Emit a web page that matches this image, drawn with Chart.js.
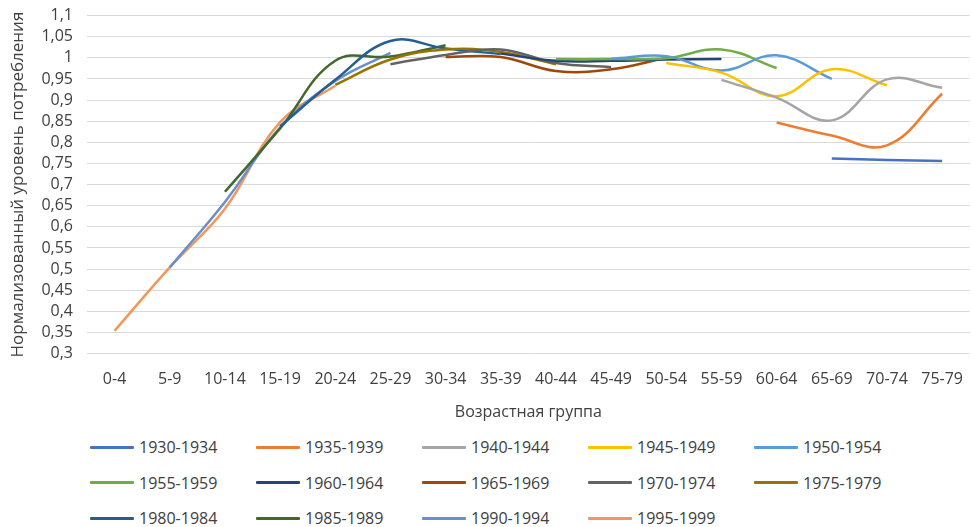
<!DOCTYPE html>
<html lang="ru">
<head>
<meta charset="utf-8">
<title>Нормализованный уровень потребления</title>
<script src="https://cdn.jsdelivr.net/npm/chart.js@4/dist/chart.umd.min.js"></script>
<style>
	html, body { margin: 0; padding: 0; background: #fff; }
	#wrap { position: relative; width: 971px; height: 527px; overflow: hidden; }
	#chartBox { position: absolute; left: 0; top: -8px; width: 971px; height: 430px; }
	#legend {
		position: absolute; left: 90px; top: 436px;
		display: grid; grid-template-columns: repeat(5, 166px); grid-auto-rows: 35.5px;
		font-family: "Open Sans", sans-serif; font-size: 16px; color: #404040;
	}
	.item { display: flex; align-items: center; height: 22px; white-space: nowrap; }
	.swatch { width: 44px; height: 3px; margin-right: 5px; border-radius: 1px; }
</style>
</head>
<body>
<div id="wrap">
	<div id="chartBox"><canvas id="ageChart"></canvas></div>
	<div id="legend"></div>
</div>
<script>
// age groups on the x axis
const ageGroups = ['0-4', '5-9', '10-14', '15-19', '20-24', '25-29', '30-34', '35-39',
	'40-44', '45-49', '50-54', '55-59', '60-64', '65-69', '70-74', '75-79'];

const cohorts = ['1930-1934', '1935-1939', '1940-1944', '1945-1949', '1950-1954',
	'1955-1959', '1960-1964', '1965-1969', '1970-1974', '1975-1979',
	'1980-1984', '1985-1989', '1990-1994', '1995-1999'];

// normalized consumption per cohort, null where the cohort has no data
const c1930 = [null, null, null, null, null, null, null, null, null, null, null, null, null, 0.762, 0.758, 0.756];
const c1935 = [null, null, null, null, null, null, null, null, null, null, null, null, 0.847, 0.816, 0.793, 0.915];
const c1940 = [null, null, null, null, null, null, null, null, null, null, null, 0.948, 0.906, 0.852, 0.949, 0.929];
const c1945 = [null, null, null, null, null, null, null, null, null, null, 0.988, 0.965, 0.909, 0.973, 0.935, null];
const c1950 = [null, null, null, null, null, null, null, null, null, 0.998, 1.004, 0.970, 1.006, 0.950, null, null];
const c1955 = [null, null, null, null, null, null, null, null, 0.997, 0.997, 0.999, 1.020, 0.976, null, null, null];
const c1960 = [null, null, null, null, null, null, null, 1.010, 0.993, 0.993, 0.996, 0.997, null, null, null, null];
const c1965 = [null, null, null, null, null, null, 1.002, 1.002, 0.969, 0.973, 1.000, null, null, null, null, null];
const c1970 = [null, null, null, null, null, 0.985, 1.007, 1.020, 0.988, 0.978, null, null, null, null, null, null];
const c1975 = [null, null, null, null, 0.936, 0.996, 1.020, 1.014, 0.985, null, null, null, null, null, null, null];
const c1980 = [null, null, null, 0.838, 0.948, 1.040, 1.022, 1.009, null, null, null, null, null, null, null, null];
const c1985 = [null, null, 0.683, 0.833, 0.993, 1.003, 1.030, null, null, null, null, null, null, null, null, null];
const c1990 = [null, 0.504, 0.659, 0.835, 0.945, 1.012, null, null, null, null, null, null, null, null, null, null];
const c1995 = [0.354, 0.504, 0.643, 0.848, 0.934, null, null, null, null, null, null, null, null, null, null, null];

const yTicks = { min: 0.3, max: 1.1, step: 0.05 };

const seriesValues = [c1930, c1935, c1940, c1945, c1950, c1955, c1960,
	c1965, c1970, c1975, c1980, c1985, c1990, c1995];

// Office theme colours
const colors = ['#4472C4', '#ED7D31', '#A5A5A5', '#FFC000', '#5B9BD5', '#70AD47', '#264478',
	'#9E480E', '#636363', '#997300', '#255E91', '#43682B', '#698ED0', '#F1975A'];

const textColor = '#404040';
const font = 'Open Sans';

const datasets = cohorts.map((name, i) => ({
	label: name,
	data: seriesValues[i],
	borderColor: colors[i],
	backgroundColor: colors[i],
	borderWidth: 2.5,
	pointRadius: 0,
	pointHoverRadius: 0,
	tension: 0.4,
	fill: false,
	spanGaps: false
}));

const ctx = document.getElementById('ageChart').getContext('2d');

const chart = new Chart(ctx, {
	type: 'line',
	data: { labels: ageGroups, datasets },
	options: {
		responsive: true,
		maintainAspectRatio: false,
		animation: false,
		layout: { padding: { top: 0, right: 0, left: 0, bottom: 0 } },
		plugins: {
			legend: { display: false },
			tooltip: { enabled: false }
		},
		scales: {
			x: {
				offset: true,
				grid: { display: false },
				border: { display: false },
				ticks: {
					color: textColor,
					font: { family: font, size: 16 },
					padding: 8,
					maxRotation: 0,
					autoSkip: false
				},
				title: {
					display: true,
					text: 'Возрастная группа',
					color: textColor,
					font: { family: font, size: 16 },
					padding: { top: 6, bottom: 0 }
				}
			},
			y: {
				min: yTicks.min,
				max: yTicks.max,
				border: { display: false },
				grid: { color: '#d9d9d9', lineWidth: 1, drawTicks: false },
				ticks: {
					stepSize: yTicks.step,
					autoSkip: false,
					color: textColor,
					font: { family: font, size: 16 },
					padding: 14,
					callback: v => String(parseFloat(v.toFixed(2))).replace('.', ',')
				},
				title: {
					display: true,
					text: 'Нормализованный уровень потребления',
					color: textColor,
					font: { family: font, size: 17 },
					padding: { top: 8, bottom: 0 }
				},
				afterFit: scale => { scale.width = 87; }
			}
		}
	}
});

// legend in five columns, like the original
const legendEl = document.getElementById('legend');
cohorts.forEach((name, i) => {
	const item = document.createElement('div');
	item.className = 'item';
	const sw = document.createElement('span');
	sw.className = 'swatch';
	sw.style.background = colors[i];
	const txt = document.createElement('span');
	txt.textContent = name;
	item.appendChild(sw);
	item.appendChild(txt);
	legendEl.appendChild(item);
});
</script>
</body>
</html>
